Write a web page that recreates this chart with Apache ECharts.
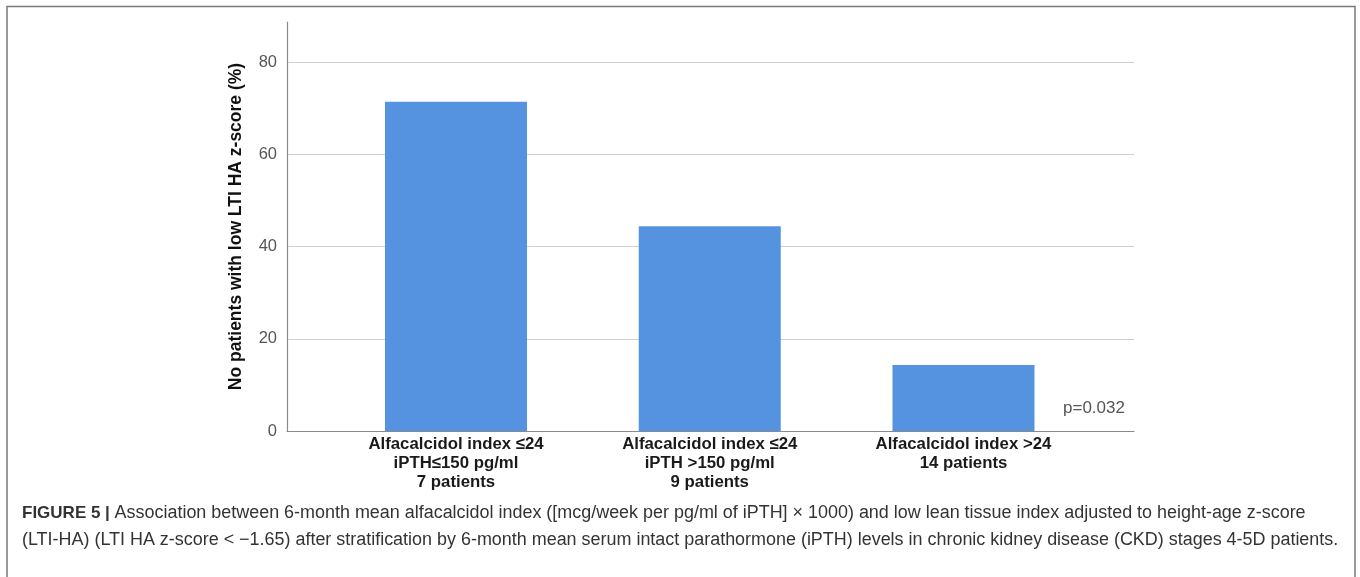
<!DOCTYPE html>
<html>
<head>
<meta charset="utf-8">
<script src="https://cdn.jsdelivr.net/npm/echarts@6/dist/echarts.min.js"></script>
<style>
html,body{margin:0;padding:0;background:#fff;}
#chart{width:1360px;height:577px;}
</style>
</head>
<body>
<div id="chart"></div>
<script>
// ---- data ----
const categories = [
  'Alfacalcidol index \u226424\niPTH\u2264150 pg/ml\n7 patients',
  'Alfacalcidol index \u226424\niPTH >150 pg/ml\n9 patients',
  'Alfacalcidol index >24\n14 patients'
];
const values = [71.4, 44.4, 14.3];
const yTicks = [0, 20, 40, 60, 80];
const yAxisTitle = 'No patients with low LTI HA z-score (%)';
const pValueText = 'p=0.032';
const captionBold = 'FIGURE 5 | ';
const captionLine1 = 'Association between 6-month mean alfacalcidol index ([mcg/week per pg/ml of iPTH] \u00d7 1000) and low lean tissue index adjusted to height-age z-score';
const captionLine2 = '(LTI-HA) (LTI HA z-score < \u22121.65) after stratification by 6-month mean serum intact parathormone (iPTH) levels in chronic kidney disease (CKD) stages 4-5D patients.';

const chart = echarts.init(document.getElementById('chart'));
const FONT = '"Liberation Sans", Arial, sans-serif';

const option = {
  animation: false,
  backgroundColor: '#fff',
  grid: { left: 287, right: 226, top: 22, bottom: 146, containLabel: false },
  xAxis: {
    type: 'value',
    min: -0.666,
    max: 2.672,
    splitLine: { show: false },
    axisTick: { show: false },
    axisLine: { show: true, onZero: false, lineStyle: { color: '#8a8a8a', width: 1.2 } },
    axisLabel: {
      customValues: categories.map((c, i) => i),
      formatter: v => categories[Math.round(v)] || '',
      fontFamily: FONT, fontSize: 16.8, fontWeight: 'bold', color: '#1a1a1a',
      lineHeight: 19, margin: 4
    }
  },
  yAxis: {
    type: 'value',
    min: 0, max: 88.7, interval: 20,
    name: yAxisTitle,
    nameLocation: 'middle', nameRotate: 90, nameGap: 42,
    nameTextStyle: { fontFamily: FONT, fontSize: 17.5, fontWeight: 'bold', color: '#111' },
    axisLine: { show: true, onZero: false, lineStyle: { color: '#8a8a8a', width: 1.2 } },
    axisTick: { show: false },
    axisLabel: {
      showMaxLabel: false,
      formatter: v => (yTicks.indexOf(v) >= 0 ? String(v) : ''),
      fontFamily: FONT, fontSize: 16.5, color: '#555', margin: 10
    },
    splitLine: { show: true, showMaxLine: false, showMinLine: false, lineStyle: { color: '#cfcfcf', width: 1.2 } }
  },
  series: [{
    type: 'bar',
    data: values.map((v, i) => [i, v]),
    barWidth: 142,
    itemStyle: { color: '#5592e0' }
  }],
  graphic: [
    { type: 'polyline', silent: true, shape: { points: [[7, 577], [7, 6.5], [1355, 6.5], [1355, 577]] },
      style: { stroke: '#7a7a7a', lineWidth: 1.5, fill: null } },
    { type: 'text', left: 1063, top: 400,
      style: { text: pValueText, font: '17px ' + FONT, fill: '#555' } },
    { type: 'text', left: 22, top: 504,
      style: { text: '{b|' + captionBold + '}{r|' + captionLine1 + '}',
        rich: {
          b: { font: 'bold 17px ' + FONT, fill: '#333' },
          r: { font: '17.95px ' + FONT, fill: '#333' }
        } } },
    { type: 'text', left: 22, top: 531,
      style: { text: captionLine2, font: '17.95px ' + FONT, fill: '#333' } }
  ]
};
chart.setOption(option);
</script>
</body>
</html>
